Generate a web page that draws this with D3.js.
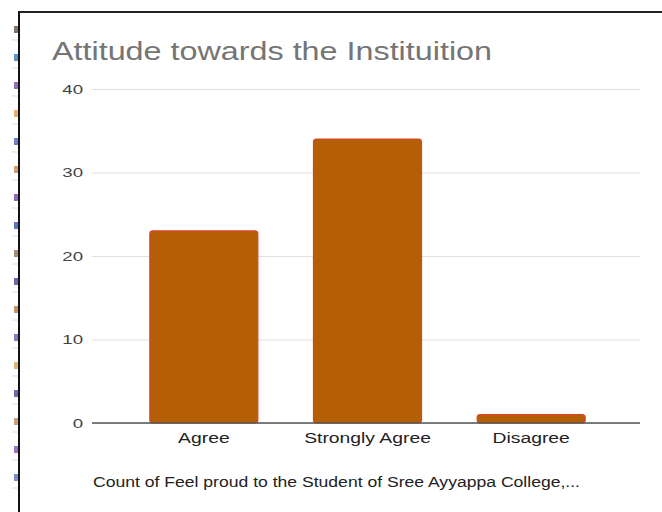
<!DOCTYPE html>
<html><head><meta charset="utf-8">
<script src="https://cdn.jsdelivr.net/npm/d3@7"></script>
<style>body{margin:0;background:#fff}svg{display:block}text{font-family:"Liberation Sans",Arial,sans-serif}</style>
</head><body><svg id="c" width="662" height="512"></svg>
<script>
const title = "Attitude towards the Instituition";
const categories = ["Agree", "Strongly Agree", "Disagree"];
const counts = [23, 34, 1];
const yTicks = [0, 10, 20, 30, 40];
const xTitle = "Count of Feel proud to the Student of Sree Ayyappa College,...";
const edgeGlyphColors = ["#5a4a3a","#2a6fb0","#7a3a9a","#d89a40","#3a5ab0","#c08040","#6a3a9a","#2a4aa0","#8a6a40","#3a3a8a","#b07030","#6a4aa0","#d0a050","#4a3a8a","#c08050","#7a4aa0","#5a6ab0"];

const STRETCH = 1.38;
function stretch(sel, f) {
  sel.each(function(){
    const w = this.getComputedTextLength();
    d3.select(this).attr("textLength", w * f).attr("lengthAdjust", "spacingAndGlyphs");
  });
}

const svg = d3.select("#c");
// page edge fragments
svg.selectAll("rect.frag").data(edgeGlyphColors).enter().append("rect")
  .attr("x", 14).attr("y", (d,i)=>26 + i*28).attr("width", 4).attr("height", 7)
  .attr("fill", d=>d).attr("opacity", 0.75);
svg.selectAll("line.fragtick").data(edgeGlyphColors).enter().append("line")
  .attr("x1", 12).attr("x2", 18).attr("y1", (d,i)=>40 + i*28).attr("y2", (d,i)=>40 + i*28)
  .attr("stroke", "#ddd");
// frame
svg.append("line").attr("x1",19).attr("x2",19).attr("y1",11).attr("y2",512).attr("stroke","#111").attr("stroke-width",2);
svg.append("line").attr("x1",19).attr("x2",662).attr("y1",12).attr("y2",12).attr("stroke","#222").attr("stroke-width",2);

const y = d3.scaleLinear().domain([0, 40]).range([423, 89]);
const x = d3.scaleBand().domain(categories).range([122, 613]).paddingInner(0.34).paddingOuter(0.17);

svg.append("text").attr("x", 52).attr("y", 60).attr("font-size", 25).attr("fill", "#757575")
  .attr("textLength", 440).attr("lengthAdjust", "spacingAndGlyphs").text(title);

const yAxis = svg.append("g").attr("transform","translate(92,0)")
  .call(d3.axisLeft(y).tickValues(yTicks).tickSize(-548).tickPadding(9));
yAxis.select(".domain").remove();
yAxis.selectAll(".tick line").attr("stroke","#e0e0e0");
yAxis.selectAll(".tick text").attr("font-size", 13.5).attr("fill","#444").attr("font-family","Liberation Sans, Arial, sans-serif")
  .call(stretch, STRETCH);

svg.selectAll("rect.bar").data(counts).enter().append("rect")
  .attr("x", (d,i)=>x(categories[i])).attr("width", x.bandwidth())
  .attr("y", d=>y(d)).attr("height", d=>y(0)-y(d))
  .attr("rx", 3).attr("fill", "#b45f06").attr("stroke", "#d9442a").attr("stroke-width", 1.2);

svg.append("line").attr("x1",92).attr("x2",640).attr("y1",y(0)).attr("y2",y(0)).attr("stroke","#555").attr("stroke-width",1.3);

const xAxis = svg.append("g").attr("transform",`translate(0,${y(0)})`)
  .call(d3.axisBottom(x).tickSize(0).tickPadding(10));
xAxis.select(".domain").remove();
xAxis.selectAll(".tick text").attr("font-size", 14).attr("fill","#222").attr("font-family","Liberation Sans, Arial, sans-serif")
  .call(stretch, STRETCH);

svg.append("text").attr("x", 93).attr("y", 487).attr("font-size", 14).attr("fill","#222")
  .attr("textLength", 487).attr("lengthAdjust", "spacingAndGlyphs").text(xTitle);
</script></body></html>
